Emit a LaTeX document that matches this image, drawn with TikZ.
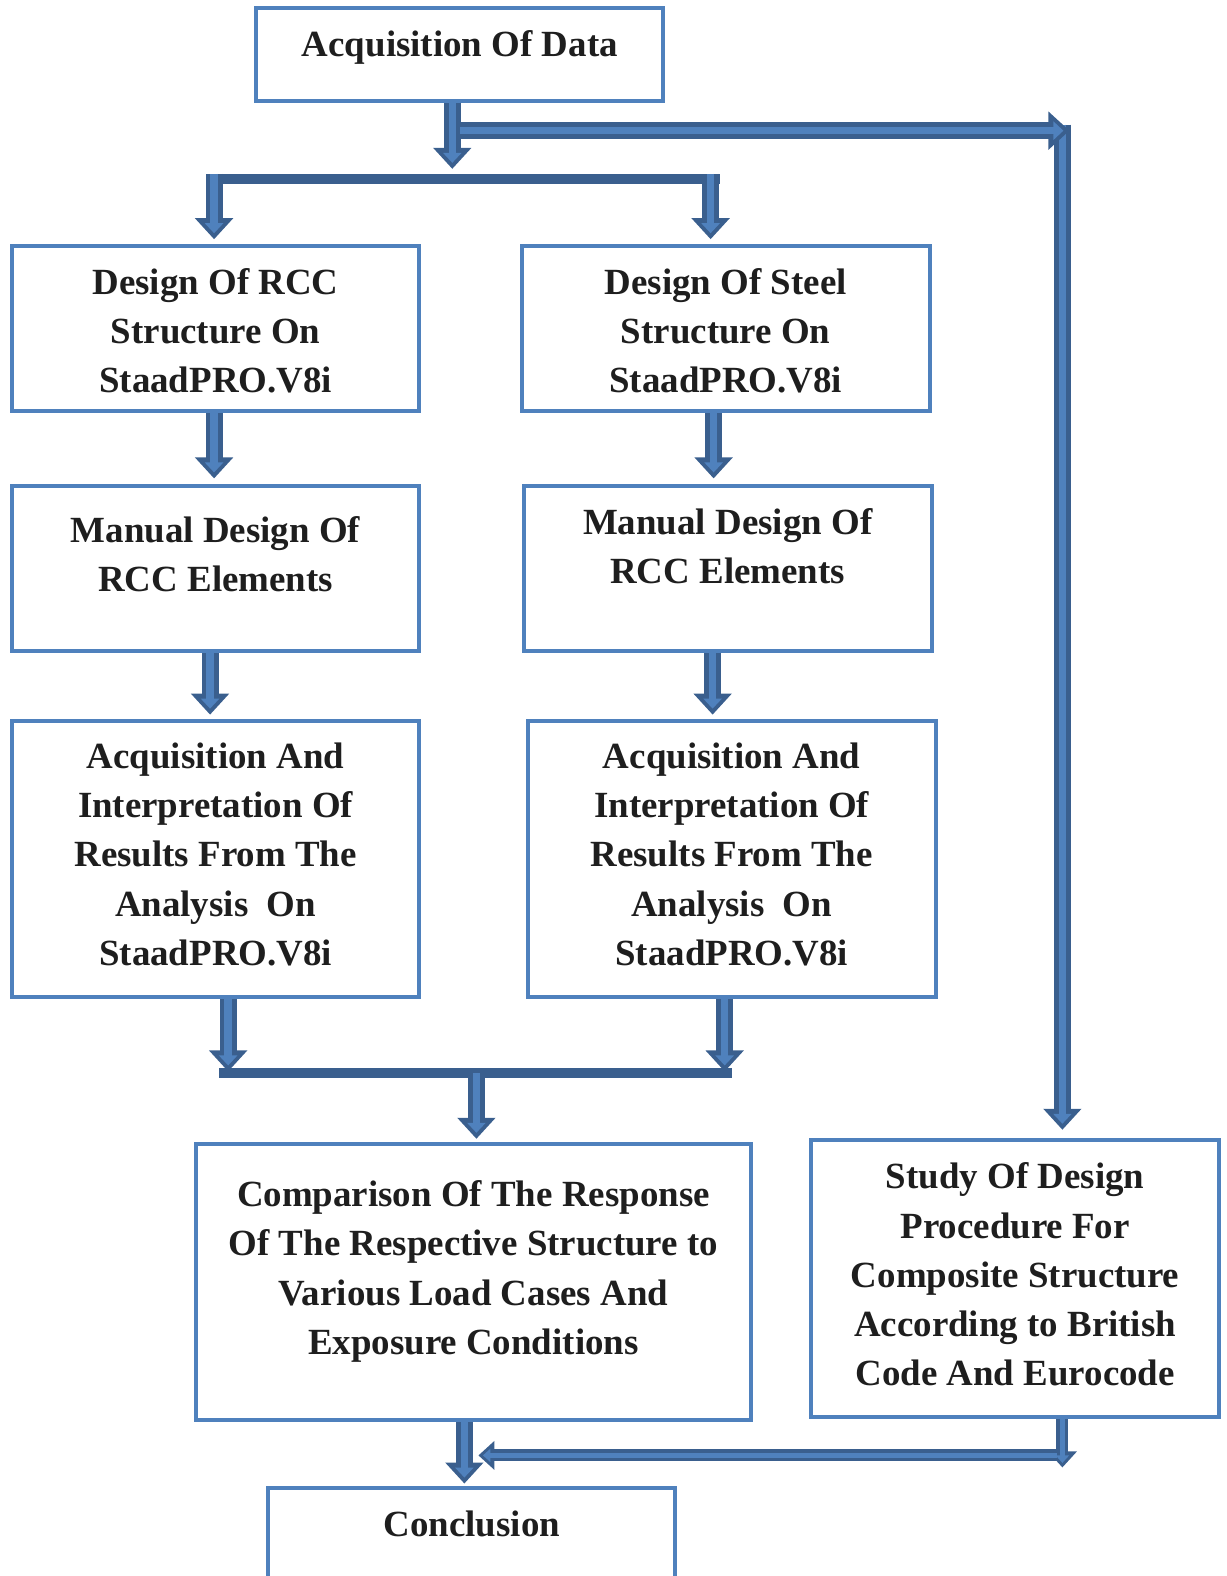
\documentclass[tikz,border=0pt]{standalone}
\usepackage{fontspec}
\setmainfont{Liberation Serif}
\usetikzlibrary{arrows.meta,calc,fit}

\definecolor{boxblue}{HTML}{4F81BD}
\definecolor{arrdark}{HTML}{3A5F8E}
\definecolor{txtgray}{HTML}{1E1E1E}

\tikzset{
  box/.style={draw=boxblue, line width=0.08cm, inner sep=0pt},
  lbl/.style={align=center, inner sep=0pt, font=\bfseries\fontsize{21}{28}\selectfont, text=txtgray},
  arr/.style={draw=arrdark, line width=0.34cm, -{Triangle[width=0.74cm,length=0.42cm]},
    postaction={draw=boxblue, line width=0.15cm, -{Triangle[width=0.36cm,length=0.2cm]}, shorten >=0.12cm}},
  thinarr/.style={draw=arrdark, line width=0.24cm, -{Triangle[width=0.56cm,length=0.32cm]},
    postaction={draw=boxblue, line width=0.09cm, -{Triangle[width=0.26cm,length=0.15cm]}, shorten >=0.09cm}},
  bar/.style={draw=arrdark, line width=0.2cm}
}

\begin{document}
\begin{tikzpicture}[x=0.0201cm, y=-0.0201cm]
  \useasboundingbox (0,0) rectangle (1220,1568);
  \clip (0,0) rectangle (1220,1568);

  % Boxes
  \node[box, fit={(255,8) (660,100)}, label={[lbl,yshift=0.14cm]center:Acquisition Of Data}] (data) {};
  \node[box, fit={(12,245) (417,409)}, label={[lbl,yshift=-0.04cm]center:{Design Of RCC\\Structure On\\StaadPRO.V8i}}] (rcc) {};
  \node[box, fit={(519,245) (925,409)}, label={[lbl,yshift=-0.04cm]center:{Design Of Steel\\Structure On\\StaadPRO.V8i}}] (steel) {};
  \node[box, fit={(12,484) (417,648)}, label={[lbl,yshift=0.3cm]center:{Manual Design Of\\RCC Elements}}] (manL) {};
  \node[box, fit={(521,484) (927,648)}, label={[lbl,yshift=0.46cm]center:{Manual Design Of\\RCC Elements}}] (manR) {};
  \node[box, fit={(12,717) (417,992)}, label={[lbl,yshift=0.09cm]center:{Acquisition And\\Interpretation Of\\Results From The\\Analysis~~On\\StaadPRO.V8i}}] (acqL) {};
  \node[box, fit={(525,717) (931,992)}, label={[lbl,yshift=0.09cm]center:{Acquisition And\\Interpretation Of\\Results From The\\Analysis~~On\\StaadPRO.V8i}}] (acqR) {};
  \node[box, fit={(195,1138) (747,1413)}, label={[lbl,yshift=0.21cm]center:{Comparison Of The Response\\Of The Respective Structure to\\Various Load Cases And\\Exposure Conditions}}] (comp) {};
  \node[box, fit={(807,1134) (1213,1410)}, label={[lbl,yshift=0.08cm]center:{Study Of Design\\Procedure For\\Composite Structure\\According to British\\Code And Eurocode}}] (study) {};
  \node[box, fit={(267,1480) (672,1640)}, label={[lbl,yshift=0.88cm]center:Conclusion}] (concl) {};

  % Junctions
  \coordinate (split) at (450,168);
  \coordinate (fork) at (458,130);
  \coordinate (corner) at (1064,130);
  \coordinate (cornerV) at (1057,124);
  \coordinate (topL) at (205,178);
  \coordinate (topR) at (716,178);
  \coordinate (botL) at (218,1068);
  \coordinate (botR) at (728,1068);
  \coordinate (retR) at (1052,1448);
  \coordinate (retL) at (476,1448);

  % Bars
  \draw[bar] (topL) -- (topR);
  \draw[bar] (botL) -- (botR);

  % Arrows
  \draw[arr] ($(data.south)+(-7.5,0)$) -- (split);
  \draw[arr] (cornerV) -- ($(study.north)+(47,-8)$);
  \draw[arr] (fork) -- (corner);
  \draw[arr] ($(topL)+(8,-5)$) -- ($(rcc.north)+(-1.5,-5)$);
  \draw[arr] ($(topR)+(-9,-5)$) -- ($(steel.north)+(-15,-5)$);
  \draw[arr] ($(rcc.south)+(-1.5,0)$) -- ($(manL.north)+(-1.5,-6)$);
  \draw[arr] ($(steel.south)+(-12,0)$) -- ($(manR.north)+(-14,-6)$);
  \draw[arr] ($(manL.south)+(-5.5,0)$) -- ($(acqL.north)+(-5.5,-4)$);
  \draw[arr] ($(manR.south)+(-15,0)$) -- ($(acqR.north)+(-19,-4)$);
  \draw[arr] ($(acqL.south)+(12.5,0)$) -- ($(botL)+(9,-2)$);
  \draw[arr] ($(acqR.south)+(-7,0)$) -- ($(botR)+(-7,-2)$);
  \draw[arr] ($(botL)!0.5!(botR)+(1,0)$) -- ($(comp.north)+(3,-3)$);
  \draw[arr] ($(comp.south)+(-9,0)$) -- ($(concl.north)+(-7.5,-2)$);
  \draw[thinarr] ($(study.south)+(47,0)$) -- ($(study.south)+(47,48)$);
  \draw[thinarr] (retR) -- (retL);
\end{tikzpicture}
\end{document}
